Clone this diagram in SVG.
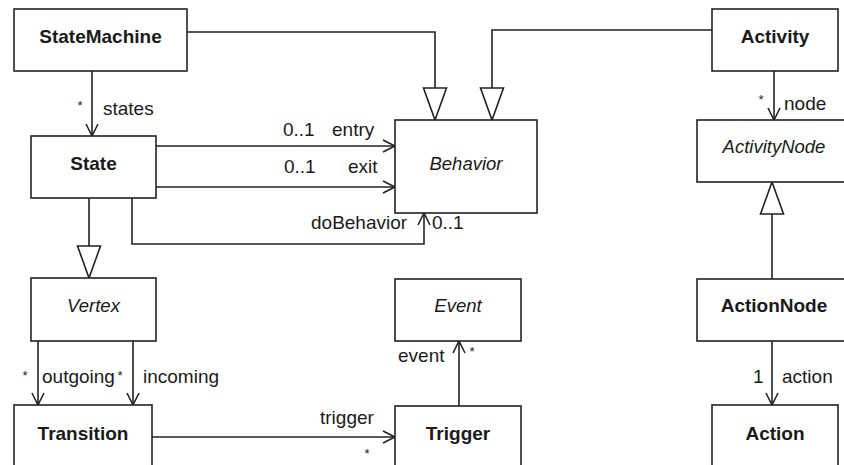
<svg xmlns="http://www.w3.org/2000/svg" width="844" height="465" viewBox="0 0 844 465">
<style>
.box{fill:#fff;stroke:#222;stroke-width:1.6}
.ln{fill:none;stroke:#222;stroke-width:1.6}
text{font-family:"Liberation Sans",Arial,sans-serif;fill:#1a1a1a}
.b{font-weight:bold;font-size:19px;text-anchor:middle}
.i{font-style:italic;font-size:18.5px;text-anchor:middle}
.l{font-size:19px}
.s{font-size:13px;text-anchor:middle}
</style>
<defs>
<marker id="open" markerWidth="16" markerHeight="16" refX="14" refY="8" orient="auto" markerUnits="userSpaceOnUse">
<path d="M2,2 L14,8 L2,14" fill="none" stroke="#222" stroke-width="1.6"/>
</marker>
<marker id="gen" markerWidth="36" markerHeight="28" refX="34" refY="14" orient="auto" markerUnits="userSpaceOnUse">
<path d="M2,2.5 L34,14 L2,25.5 Z" fill="#fff" stroke="#222" stroke-width="1.6"/>
</marker>
</defs>
<g id="connectors">
<path class="ln" d="M187,32 H435 V120" marker-end="url(#gen)"/>
<path class="ln" d="M712,30 H492 V120" marker-end="url(#gen)"/>
<path class="ln" d="M92,71 V136" marker-end="url(#open)"/>
<path class="ln" d="M156,146 H395" marker-end="url(#open)"/>
<path class="ln" d="M156,187 H395" marker-end="url(#open)"/>
<path class="ln" d="M132,198 V244 H424 V213" marker-end="url(#open)"/>
<path class="ln" d="M89,198 V278" marker-end="url(#gen)"/>
<path class="ln" d="M38,341 V405" marker-end="url(#open)"/>
<path class="ln" d="M133,341 V405" marker-end="url(#open)"/>
<path class="ln" d="M152,437 H395" marker-end="url(#open)"/>
<path class="ln" d="M459,406 V341" marker-end="url(#open)"/>
<path class="ln" d="M774,71 V120" marker-end="url(#open)"/>
<path class="ln" d="M772,279 V182" marker-end="url(#gen)"/>
<path class="ln" d="M772,341 V405" marker-end="url(#open)"/>
<text class="s" x="80" y="110">*</text>
<text class="l" x="103" y="115">states</text>
<text class="l" x="283" y="136">0..1</text>
<text class="l" x="332" y="136">entry</text>
<text class="l" x="284" y="173">0..1</text>
<text class="l" x="348" y="173">exit</text>
<text class="l" x="311" y="229">doBehavior</text>
<text class="l" x="432" y="229">0..1</text>
<text class="s" x="761" y="104">*</text>
<text class="l" x="784" y="110">node</text>
<text class="s" x="25" y="380">*</text>
<text class="l" x="42" y="383">outgoing</text>
<text class="s" x="120" y="380">*</text>
<text class="l" x="143" y="383">incoming</text>
<text class="l" x="320" y="424">trigger</text>
<text class="s" x="367" y="458">*</text>
<text class="l" x="398" y="362">event</text>
<text class="s" x="472" y="356">*</text>
<text class="l" x="753" y="383">1</text>
<text class="l" x="782" y="383">action</text>
</g>
<g id="StateMachine"><rect class="box" x="14" y="9" width="173" height="62"/><text class="b" x="100.5" y="43">StateMachine</text></g>
<g id="Activity"><rect class="box" x="712" y="9" width="126" height="62"/><text class="b" x="775" y="43">Activity</text></g>
<g id="Behavior"><rect class="box" x="395" y="120" width="142" height="93"/><text class="i" x="466" y="170">Behavior</text></g>
<g id="State"><rect class="box" x="31" y="136" width="125" height="62"/><text class="b" x="93.5" y="170">State</text></g>
<g id="ActivityNode"><rect class="box" x="697" y="120" width="154" height="62"/><text class="i" x="774" y="153">ActivityNode</text></g>
<g id="Vertex"><rect class="box" x="31" y="278" width="125" height="63"/><text class="i" x="93.5" y="312">Vertex</text></g>
<g id="Event"><rect class="box" x="395" y="279" width="126" height="62"/><text class="i" x="458" y="312">Event</text></g>
<g id="ActionNode"><rect class="box" x="697" y="279" width="154" height="62"/><text class="b" x="774" y="312">ActionNode</text></g>
<g id="Transition"><rect class="box" x="14" y="405" width="138" height="70"/><text class="b" x="83" y="440">Transition</text></g>
<g id="Trigger"><rect class="box" x="395" y="406" width="126" height="70"/><text class="b" x="458" y="440">Trigger</text></g>
<g id="Action"><rect class="box" x="712" y="405" width="126" height="70"/><text class="b" x="775" y="440">Action</text></g>
</svg>
